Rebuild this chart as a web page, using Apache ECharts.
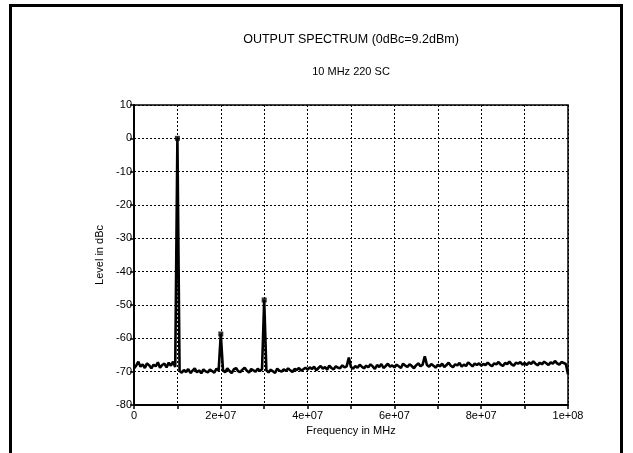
<!DOCTYPE html>
<html>
<head>
<meta charset="utf-8">
<script src="https://cdn.jsdelivr.net/npm/echarts@6/dist/echarts.min.js"></script>
<style>
html,body{margin:0;padding:0;background:#fff;}
#c{width:633px;height:453px;}
</style>
</head>
<body>
<div id="c"></div>
<script>
var titleText = 'OUTPUT SPECTRUM (0dBc=9.2dBm)';
var subtitleText = '10 MHz 220 SC';
var xName = 'Frequency in MHz';
var yName = 'Level in dBc';
var freqStartHz = 0;
var freqStepHz = 5e5;
var peakFreqsHz = [1e7, 2e7, 3e7];
var levelsDbc = [
  -69.0, -68.2, -67.0, -68.5, -67.8, -68.9, -67.5, -68.1, -69.0, -67.9,
  -68.4, -67.2, -68.8, -68.0, -67.6, -68.7, -67.3, -68.2, -67.0, -68.6,
  0.0,
  -69.8, -70.3, -69.5, -70.1, -69.2, -70.4, -69.7, -69.0, -70.2, -69.6,
  -70.5, -69.3, -69.9, -70.2, -69.4, -69.8, -70.3, -69.1, -69.7,
  -58.7,
  -69.5, -70.2, -69.0, -69.8, -70.4, -69.3, -68.9, -69.9, -70.1, -69.4,
  -68.8, -69.7, -70.3, -69.2, -69.6, -70.0, -69.1, -69.8, -69.3,
  -48.5,
  -69.6, -70.2, -69.4, -69.9, -70.4, -69.1, -69.7, -70.0, -69.3, -69.8,
  -69.0, -69.6, -70.1, -69.2, -69.5, -68.9, -69.7, -69.3, -68.8,
  -69.4, -68.7, -69.2, -68.5, -69.6, -68.9, -68.3, -69.1, -68.6, -69.4,
  -68.2, -68.9, -69.3, -68.4, -68.8, -69.0, -68.1, -68.7, -68.4, -65.8,
  -68.6, -69.1, -68.3, -68.8, -67.9, -68.5, -69.0, -68.2, -68.7, -67.8,
  -68.4, -69.2, -68.0, -68.6, -67.7, -68.9, -68.3, -67.6, -68.5, -68.1,
  -68.7, -67.9, -68.4, -68.9, -67.6, -68.2, -68.6, -67.8, -68.3, -69.0,
  -68.1, -67.5, -68.4, -67.9, -65.4, -68.0, -68.5, -67.7, -68.2, -68.8,
  -67.9, -68.4, -67.6, -68.6, -68.0, -67.3, -68.2, -68.7, -67.8, -68.1,
  -67.4, -68.5, -67.9, -68.3, -67.2, -67.8, -68.4, -67.6, -68.0, -67.5,
  -68.2, -67.7, -68.0, -67.3, -67.9, -68.4, -67.5, -67.8, -67.1, -67.9,
  -68.3, -67.4, -67.7, -67.0, -67.8, -68.2, -67.3, -67.6, -67.1, -67.9,
  -67.4, -68.0, -67.2, -67.7, -66.9, -67.6, -68.1, -67.3, -67.8, -67.0,
  -67.5, -68.0, -67.2, -67.6, -66.8, -67.5, -67.9, -67.1, -67.4, -67.7,
  -70.8
];
var xTickLabels = {0:'0', 20000000:'2e+07', 40000000:'4e+07', 60000000:'6e+07', 80000000:'8e+07', 100000000:'1e+08'};

var lineData = levelsDbc.map(function(v, i){ return [freqStartHz + i*freqStepHz, v]; });
var peakData = peakFreqsHz.map(function(f){
  var i = Math.round((f - freqStartHz)/freqStepHz);
  return [f, levelsDbc[i]];
});

var chart = echarts.init(document.getElementById('c'));
var FONT = 'Liberation Sans, Arial, sans-serif';
chart.setOption({
  animation: false,
  backgroundColor: '#fff',
  graphic: [
    {type: 'rect', shape: {x: 10.5, y: 5.5, width: 611, height: 460},
     style: {fill: 'none', stroke: '#000', lineWidth: 3}, silent: true},
    {type: 'text', x: 351, y: 40, silent: true,
     style: {text: titleText, font: '12.5px ' + FONT, fill: '#000', align: 'center', verticalAlign: 'middle'}},
    {type: 'text', x: 351, y: 72, silent: true,
     style: {text: subtitleText, font: '11px ' + FONT, fill: '#000', align: 'center', verticalAlign: 'middle'}}
  ],
  grid: {left: 134, right: 65, top: 105, bottom: 48, show: true, borderColor: '#000', borderWidth: 1.5, backgroundColor: 'transparent'},
  xAxis: {
    type: 'value', min: 0, max: 1e8, interval: 1e7,
    name: xName, nameLocation: 'middle', nameGap: 18,
    nameTextStyle: {fontFamily: FONT, fontSize: 11, color: '#000'},
    axisLine: {show: true, onZero: false, lineStyle: {color: '#000', width: 2}},
    axisTick: {show: true, length: 4, lineStyle: {color: '#000', width: 1.5}},
    axisLabel: {fontFamily: FONT, fontSize: 11, color: '#000', margin: 5,
      formatter: function(v){ return xTickLabels.hasOwnProperty(v) ? xTickLabels[v] : ''; }},
    splitLine: {show: true, lineStyle: {color: '#000', width: 1, type: [2, 2]}}
  },
  yAxis: {
    type: 'value', min: -80, max: 10, interval: 10,
    name: yName, nameLocation: 'middle', nameGap: 29, nameRotate: 90,
    nameTextStyle: {fontFamily: FONT, fontSize: 11, color: '#000'},
    axisLine: {show: true, onZero: false, lineStyle: {color: '#000', width: 2}},
    axisTick: {show: true, length: 4, lineStyle: {color: '#000', width: 1.5}},
    axisLabel: {fontFamily: FONT, fontSize: 11, color: '#000', margin: 2},
    splitLine: {show: true, lineStyle: {color: '#000', width: 1, type: [2, 2]}}
  },
  series: [
    {type: 'line', data: lineData, showSymbol: false, symbol: 'none',
     lineStyle: {color: '#000', width: 2.6}, z: 3},
    {type: 'scatter', data: peakData, symbol: 'rect', symbolSize: 5,
     itemStyle: {color: '#000'}, z: 4}
  ]
});
</script>
</body>
</html>
